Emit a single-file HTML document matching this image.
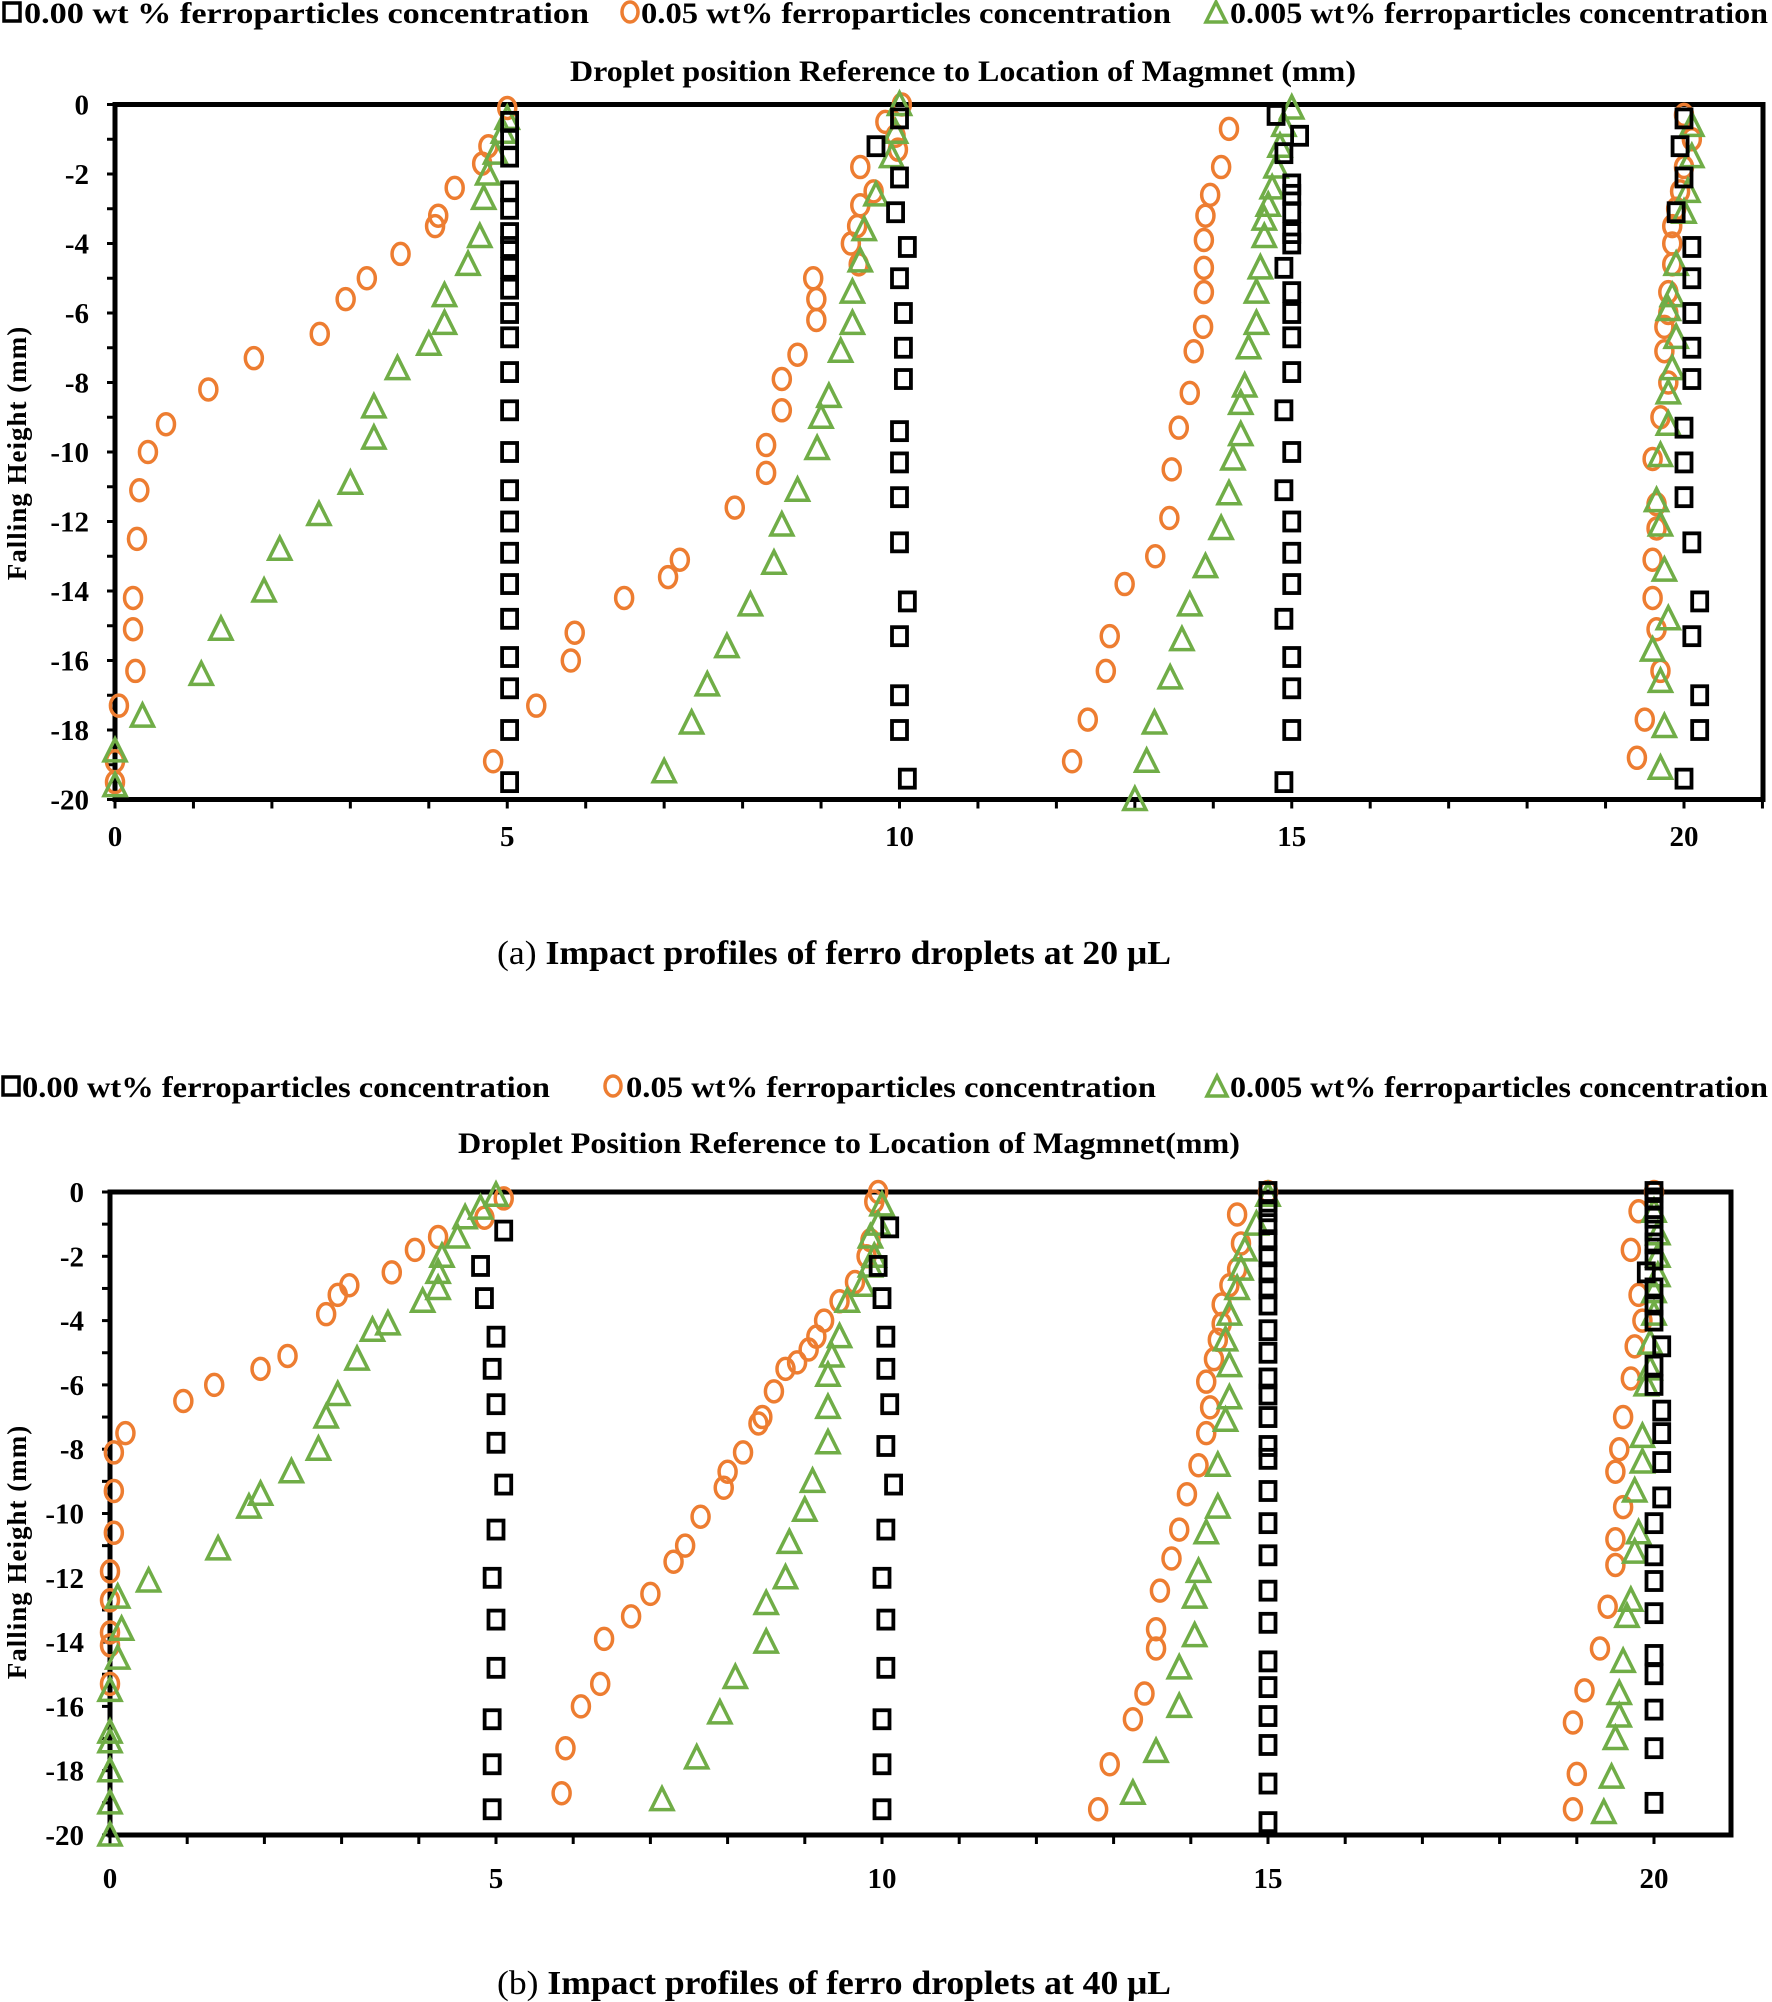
<!DOCTYPE html>
<html><head><meta charset="utf-8">
<style>
html,body{margin:0;padding:0;background:#fff;}
svg{display:block;}
text{font-family:"Liberation Serif",serif;font-weight:bold;fill:#000;}
</style></head>
<body>
<svg id="s" width="1772" height="2002" xmlns="http://www.w3.org/2000/svg">
<rect x="4" y="3" width="16" height="18" fill="none" stroke="#000" stroke-width="3.5"/>
<text x="24" y="23" font-size="30" textLength="565" lengthAdjust="spacingAndGlyphs">0.00 wt % ferroparticles concentration</text>
<ellipse cx="630" cy="12" rx="8" ry="10" fill="none" stroke="#ED7D31" stroke-width="3.5"/>
<text x="641" y="23" font-size="30" textLength="530" lengthAdjust="spacingAndGlyphs">0.05 wt% ferroparticles concentration</text>
<polygon points="1216,2 1206,22 1226,22" fill="none" stroke="#70AD47" stroke-width="3.5"/>
<text x="1230" y="23" font-size="30" textLength="538" lengthAdjust="spacingAndGlyphs">0.005 wt% ferroparticles concentration</text>
<text x="570" y="81" font-size="30" textLength="786" lengthAdjust="spacingAndGlyphs">Droplet position Reference to Location of Magmnet (mm)</text>
<text x="497" y="964" font-size="34" textLength="674" lengthAdjust="spacingAndGlyphs"><tspan font-weight="normal">(a) </tspan>Impact profiles of ferro droplets at 20 μL</text>
<text transform="translate(26,453) rotate(-90)" font-size="27" text-anchor="middle" letter-spacing="1">Falling Height (mm)</text>
<rect x="3" y="1077" width="16" height="18" fill="none" stroke="#000" stroke-width="3.5"/>
<text x="22" y="1097" font-size="30" textLength="528" lengthAdjust="spacingAndGlyphs">0.00 wt% ferroparticles concentration</text>
<ellipse cx="613" cy="1086" rx="8" ry="10" fill="none" stroke="#ED7D31" stroke-width="3.5"/>
<text x="626" y="1097" font-size="30" textLength="530" lengthAdjust="spacingAndGlyphs">0.05 wt% ferroparticles concentration</text>
<polygon points="1217,1076 1207,1096 1227,1096" fill="none" stroke="#70AD47" stroke-width="3.5"/>
<text x="1230" y="1097" font-size="30" textLength="538" lengthAdjust="spacingAndGlyphs">0.005 wt% ferroparticles concentration</text>
<text x="458" y="1153" font-size="30" textLength="782" lengthAdjust="spacingAndGlyphs">Droplet Position Reference to Location of Magmnet(mm)</text>
<text x="497" y="1994" font-size="34" textLength="674" lengthAdjust="spacingAndGlyphs"><tspan font-weight="normal">(b) </tspan>Impact profiles of ferro droplets at 40 μL</text>
<text transform="translate(26,1552) rotate(-90)" font-size="27" text-anchor="middle" letter-spacing="1">Falling Height (mm)</text>
<g id="ga"></g><g id="gb"></g>
</svg>
<script>
var NS="http://www.w3.org/2000/svg";
function el(p,t,a){var e=document.createElementNS(NS,t);for(var k in a)e.setAttribute(k,a[k]);p.appendChild(e);return e;}
function chart(g,c,sq,ci,tr){
 var X=function(v){return c.x0+v*c.ux;},Y=function(v){return c.y0-v*c.uy;};
 el(g,'rect',{x:c.x0,y:c.y0,width:c.xr-c.x0,height:20*c.uy,fill:'none',stroke:'#000','stroke-width':5});
 for(var i=0;i<=21;i++){var xx=X(i);if(xx>c.xr)break;el(g,'line',{x1:xx,x2:xx,y1:Y(-20),y2:Y(-20)+9,stroke:'#000','stroke-width':3});}
 for(var j=0;j>=-20;j--){el(g,'line',{x1:c.x0-8,x2:c.x0,y1:Y(j),y2:Y(j),stroke:'#000','stroke-width':3});}
 for(var j=0;j>=-20;j-=2){var t=el(g,'text',{x:c.x0-26,y:Y(j)+10,'font-size':29,'text-anchor':'end'});t.textContent=j;}
 for(var i=0;i<=20;i+=5){var t=el(g,'text',{x:X(i),y:c.ty,'font-size':29,'text-anchor':'middle'});t.textContent=i;}
 ci.forEach(function(p){el(g,'ellipse',{cx:X(p[0]),cy:Y(p[1]),rx:8.5,ry:10.5,fill:'none',stroke:'#ED7D31','stroke-width':3.5});});
 tr.forEach(function(p){var x=X(p[0]),y=Y(p[1]);el(g,'polygon',{points:(x)+','+(y-12)+' '+(x-11)+','+(y+10)+' '+(x+11)+','+(y+10),fill:'none',stroke:'#70AD47','stroke-width':3.5});});
 sq.forEach(function(p){el(g,'rect',{x:X(p[0])-7.5,y:Y(p[1])-9,width:15,height:18,fill:'none',stroke:'#000','stroke-width':3.8});});
}
function col(x,ys){return ys.map(function(y){return Array.isArray(y)?y:[x,y];});}
var sqa=[].concat(
 col(5.03,[-0.5,-1,-1.5,-2.5,-3,-3.7,-4.1,-4.7,-5.3,-6,-6.7,-7.7,-8.8,-10,-11.1,-12,-12.9,-13.8,-14.8,-15.9,-16.8,-18,-19.5]),
 [[10,-0.4],[9.7,-1.2],[10,-2.1],[9.95,-3.1],[10.1,-4.1],[10,-5],[10.05,-6],[10.05,-7],[10.05,-7.9],[10,-9.4],[10,-10.3],[10,-11.3],[10,-12.6],[10.1,-14.3],[10,-15.3],[10,-17],[10,-18],[10.1,-19.4]],
 [[14.8,-0.3],[15.1,-0.9],[14.9,-1.4],[15,-2.3],[15,-2.6],[15,-3.1],[15,-3.7],[15,-4],[14.9,-4.7],[15,-5.4],[15,-6],[15,-6.7],[15,-7.7],[14.9,-8.8],[15,-10],[14.9,-11.1],[15,-12],[15,-12.9],[15,-13.8],[14.9,-14.8],[15,-15.9],[15,-16.8],[15,-18],[14.9,-19.5]],
 [[20,-0.4],[19.95,-1.2],[20,-2.1],[19.9,-3.1],[20.1,-4.1],[20.1,-5],[20.1,-6],[20.1,-7],[20.1,-7.9],[20,-9.3],[20,-10.3],[20,-11.3],[20.1,-12.6],[20.2,-14.3],[20.1,-15.3],[20.2,-17],[20.2,-18],[20,-19.4]]);
var cia=[[5,-0.1],[4.76,-1.2],[4.68,-1.7],[4.33,-2.4],[4.12,-3.2],[4.08,-3.5],[3.64,-4.3],[3.21,-5],[2.94,-5.6],[2.61,-6.6],[1.77,-7.3],[1.19,-8.2],[0.65,-9.2],[0.42,-10],[0.31,-11.1],[0.28,-12.5],[0.23,-14.2],[0.23,-15.1],[0.26,-16.3],[0.05,-17.3],[0,-18.9],[0,-19.5],
[10.03,0],[9.82,-0.5],[9.95,-0.9],[9.98,-1.3],[9.5,-1.8],[9.67,-2.5],[9.5,-2.9],[9.46,-3.5],[9.38,-4],[9.48,-4.6],[8.9,-5],[8.94,-5.6],[8.94,-6.2],[8.7,-7.2],[8.5,-7.9],[8.5,-8.8],[8.3,-9.8],[8.3,-10.6],[7.9,-11.6],[7.2,-13.1],[7.05,-13.6],[6.49,-14.2],[5.86,-15.2],[5.81,-16],[5.37,-17.3],[4.82,-18.9],
[14.2,-0.7],[14.1,-1.8],[13.96,-2.6],[13.9,-3.2],[13.88,-3.9],[13.88,-4.7],[13.88,-5.4],[13.87,-6.4],[13.75,-7.1],[13.7,-8.3],[13.56,-9.3],[13.47,-10.5],[13.44,-11.9],[13.26,-13],[12.87,-13.8],[12.68,-15.3],[12.63,-16.3],[12.4,-17.7],[12.2,-18.9],
[20,-0.3],[20.1,-1],[20,-1.8],[19.95,-2.5],[19.9,-3],[19.85,-3.5],[19.85,-4],[19.85,-4.6],[19.8,-5.4],[19.8,-6],[19.75,-6.4],[19.75,-7.1],[19.8,-8],[19.7,-9],[19.6,-10.2],[19.65,-11.5],[19.65,-12.2],[19.6,-13.1],[19.6,-14.2],[19.65,-15.1],[19.7,-16.3],[19.5,-17.7],[19.4,-18.8]];
var tra=[[5,-0.4],[4.95,-0.8],[4.85,-1.4],[4.75,-2],[4.7,-2.7],[4.65,-3.8],[4.5,-4.6],[4.2,-5.5],[4.2,-6.3],[4,-6.9],[3.6,-7.6],[3.3,-8.7],[3.3,-9.6],[3,-10.9],[2.6,-11.8],[2.1,-12.8],[1.9,-14],[1.35,-15.1],[1.1,-16.4],[0.35,-17.6],[0,-18.6],[0,-19.6],
[10,0],[9.95,-0.8],[9.9,-1.5],[9.7,-2.6],[9.55,-3.6],[9.5,-4.5],[9.4,-5.4],[9.4,-6.3],[9.25,-7.1],[9.1,-8.4],[9,-9],[8.95,-9.9],[8.7,-11.1],[8.5,-12.1],[8.4,-13.2],[8.1,-14.4],[7.8,-15.6],[7.55,-16.7],[7.35,-17.8],[7,-19.2],
[15,-0.1],[14.9,-0.6],[14.85,-1.2],[14.8,-1.8],[14.75,-2.4],[14.7,-2.9],[14.65,-3.3],[14.65,-3.8],[14.6,-4.7],[14.55,-5.4],[14.55,-6.3],[14.45,-7],[14.4,-8.1],[14.35,-8.6],[14.35,-9.5],[14.25,-10.2],[14.2,-11.2],[14.1,-12.2],[13.9,-13.3],[13.7,-14.4],[13.6,-15.4],[13.45,-16.5],[13.25,-17.8],[13.15,-18.9],[13,-20],
[20.1,-0.6],[20.1,-1.5],[20.05,-2.5],[20,-3.1],[19.9,-4.6],[19.85,-5.5],[19.8,-5.9],[19.9,-6.7],[19.85,-7.6],[19.8,-8.3],[19.8,-9.2],[19.7,-10.1],[19.65,-11.4],[19.7,-12.1],[19.75,-13.4],[19.8,-14.8],[19.6,-15.7],[19.7,-16.6],[19.75,-17.9],[19.7,-19.1]];
chart(document.getElementById('ga'),{x0:115,ux:78.45,y0:104.5,uy:34.75,xr:1763,ty:846},sqa,cia,tra);

var sqb=[].concat(
 [[5.1,-1.2],[4.8,-2.3],[4.85,-3.3],[5,-4.5],[4.95,-5.5],[5,-6.6],[5,-7.8],[5.1,-9.1],[5,-10.5],[4.95,-12],[5,-13.3],[5,-14.8],[4.95,-16.4],[4.95,-17.8],[4.95,-19.2]],
 [[10.1,-1.1],[9.95,-2.3],[10,-3.3],[10.05,-4.5],[10.05,-5.5],[10.1,-6.6],[10.05,-7.9],[10.15,-9.1],[10.05,-10.5],[10,-12],[10.05,-13.3],[10.05,-14.8],[10,-16.4],[10,-17.8],[10,-19.2]],
 col(15,[0,-0.3,-0.6,-1,-1.5,-2,-2.5,-3,-3.5,-4.3,-5,-5.8,-6.3,-7,-7.9,-8.3,-9.3,-10.3,-11.3,-12.4,-13.4,-14.6,-15.4,-16.3,-17.2,-18.4,-19.6]),
 col(20,[0,-0.2,-0.5,-0.8,-1.2,-1.6,-2.1,[19.9,-2.5],-3,-3.5,-4,[20.1,-4.8],-5.4,-6,[20.1,-6.8],[20.1,-7.5],[20.1,-8.4],[20.1,-9.5],-10.3,-11.3,-12.1,-13.1,-14.4,-15,-16.1,-17.3,-19]));
var cib=[[5.1,-0.2],[4.85,-0.8],[4.25,-1.4],[3.95,-1.8],[3.65,-2.5],[3.1,-2.9],[2.95,-3.2],[2.8,-3.8],[2.3,-5.1],[1.95,-5.5],[1.35,-6],[0.95,-6.5],[0.2,-7.5],[0.05,-8.1],[0.05,-9.3],[0.05,-10.6],[0,-11.8],[0,-12.7],[0,-13.7],[0,-14.1],[0,-15.3],
[9.95,0],[9.9,-0.3],[9.85,-1.5],[9.8,-2],[9.65,-2.8],[9.45,-3.4],[9.25,-4],[9.15,-4.5],[9.05,-4.9],[8.9,-5.3],[8.75,-5.5],[8.6,-6.2],[8.45,-7],[8.4,-7.2],[8.2,-8.1],[8,-8.7],[7.95,-9.2],[7.65,-10.1],[7.45,-11],[7.3,-11.5],[7,-12.5],[6.75,-13.2],[6.4,-13.9],[6.35,-15.3],[6.1,-16],[5.9,-17.3],[5.85,-18.7],
[15,0],[14.6,-0.7],[14.65,-1.6],[14.6,-2.4],[14.5,-2.9],[14.4,-3.5],[14.4,-4.1],[14.35,-4.6],[14.3,-5.2],[14.2,-5.9],[14.25,-6.7],[14.2,-7.5],[14.1,-8.5],[13.95,-9.4],[13.85,-10.5],[13.75,-11.4],[13.6,-12.4],[13.55,-13.6],[13.55,-14.2],[13.4,-15.6],[13.25,-16.4],[12.95,-17.8],[12.8,-19.2],
[20,0],[19.8,-0.6],[19.7,-1.8],[19.8,-3.2],[19.85,-4],[19.75,-4.8],[19.7,-5.8],[19.6,-7],[19.55,-8],[19.5,-8.7],[19.6,-9.8],[19.5,-10.8],[19.5,-11.6],[19.4,-12.9],[19.3,-14.2],[19.1,-15.5],[18.95,-16.5],[19,-18.1],[18.95,-19.2]];
var trb=[[5,-0.1],[4.8,-0.5],[4.6,-0.8],[4.5,-1.4],[4.3,-2],[4.25,-2.5],[4.25,-3],[4.05,-3.4],[3.6,-4.1],[3.4,-4.3],[3.2,-5.2],[2.95,-6.3],[2.8,-7],[2.7,-8],[2.35,-8.7],[1.95,-9.4],[1.8,-9.8],[1.4,-11.1],[0.5,-12.1],[0.1,-12.6],[0.15,-13.6],[0.1,-14.5],[0,-15.5],[0,-16.8],[0,-17.1],[0,-18],[0,-19],[0,-20],
[10,-0.4],[9.95,-1],[9.85,-1.4],[9.9,-2],[9.85,-2.3],[9.75,-2.9],[9.55,-3.4],[9.45,-4.5],[9.35,-5.1],[9.3,-5.7],[9.3,-6.7],[9.3,-7.8],[9.1,-9],[9,-9.9],[8.8,-10.9],[8.75,-12],[8.5,-12.8],[8.5,-14],[8.1,-15.1],[7.9,-16.2],[7.6,-17.6],[7.15,-18.9],
[15,-0.1],[14.85,-1],[14.7,-1.8],[14.65,-2.4],[14.6,-3],[14.5,-3.8],[14.45,-4.6],[14.5,-5.4],[14.5,-6.4],[14.45,-7.1],[14.35,-8.5],[14.35,-9.8],[14.2,-10.6],[14.1,-11.8],[14.05,-12.6],[14.05,-13.8],[13.85,-14.8],[13.85,-16],[13.55,-17.4],[13.25,-18.7],
[20,-0.6],[20.05,-1.3],[20.05,-2],[20.05,-2.6],[20,-3.1],[20,-3.8],[19.95,-4.7],[19.95,-5.5],[19.9,-6],[19.85,-7.6],[19.85,-8.4],[19.75,-9.3],[19.8,-10.6],[19.75,-11.2],[19.7,-12.7],[19.65,-13.2],[19.6,-14.6],[19.55,-15.6],[19.55,-16.3],[19.5,-17],[19.45,-18.2],[19.35,-19.3]];
chart(document.getElementById('gb'),{x0:110,ux:77.2,y0:1192,uy:32.15,xr:1731,ty:1888},sqb,cib,trb);
</script>
</body></html>
